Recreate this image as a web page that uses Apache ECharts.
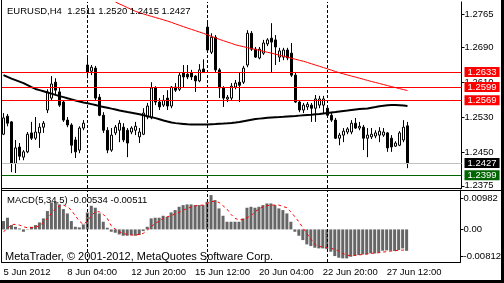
<!DOCTYPE html>
<html>
<head>
<meta charset="utf-8">
<script src="https://cdn.jsdelivr.net/npm/echarts@6/dist/echarts.min.js"></script>
<style>
  html, body { margin: 0; padding: 0; background: #fff; }
  #chart { width: 504px; height: 283px; }
</style>
</head>
<body>
<div id="chart"></div>
<script>
// EURUSD H4, 5 Jun 12:00 .. 28 Jun 08:00 2012
var opens = [
  1.2492, 1.2533, 1.2520, 1.2426, 1.2463, 1.2440, 1.2452, 1.2495, 1.2483, 1.2495,
  1.2508, 1.2547, 1.2574, 1.2610, 1.2588, 1.2565, 1.2524, 1.2513, 1.2479, 1.2456,
  1.2506, 1.2649, 1.2635, 1.2642, 1.2576, 1.2535, 1.2501, 1.2456, 1.2495, 1.2501,
  1.2508, 1.2501, 1.2497, 1.2501, 1.2486, 1.2492, 1.2531, 1.2529, 1.2597, 1.2565,
  1.2558, 1.2574, 1.2556, 1.2599, 1.2594, 1.2631, 1.2628, 1.2631, 1.2624, 1.2613,
  1.2640, 1.2735, 1.2678, 1.2712, 1.2638, 1.2597, 1.2572, 1.2574, 1.2599, 1.2610,
  1.2610, 1.2649, 1.2721, 1.2685, 1.2665, 1.2676, 1.2697, 1.2710, 1.2706, 1.2667,
  1.2667, 1.2683, 1.2676, 1.2626, 1.2565, 1.2547, 1.2554, 1.2558, 1.2551, 1.2558,
  1.2558, 1.2551, 1.2535, 1.2524, 1.2483, 1.2490, 1.2497, 1.2497, 1.2517, 1.2506,
  1.2508, 1.2483, 1.2486, 1.2488, 1.2490, 1.2490, 1.2495, 1.2483, 1.2465, 1.2467,
  1.2479, 1.2511
];
var highs = [
  1.2540, 1.2538, 1.2522, 1.2479, 1.2472, 1.2456, 1.2497, 1.2520, 1.2531, 1.2517,
  1.2522, 1.2594, 1.2624, 1.2619, 1.2599, 1.2569, 1.2531, 1.2517, 1.2486, 1.2510,
  1.2524, 1.2669, 1.2649, 1.2647, 1.2583, 1.2542, 1.2508, 1.2506, 1.2513, 1.2524,
  1.2517, 1.2506, 1.2510, 1.2520, 1.2506, 1.2551, 1.2563, 1.2610, 1.2601, 1.2574,
  1.2581, 1.2592, 1.2601, 1.2608, 1.2633, 1.2649, 1.2649, 1.2638, 1.2626, 1.2651,
  1.2662, 1.2746, 1.2721, 1.2717, 1.2642, 1.2601, 1.2581, 1.2608, 1.2615, 1.2631,
  1.2647, 1.2728, 1.2726, 1.2690, 1.2690, 1.2706, 1.2710, 1.2744, 1.2717, 1.2688,
  1.2688, 1.2688, 1.2699, 1.2631, 1.2569, 1.2563, 1.2565, 1.2563, 1.2581, 1.2579,
  1.2579, 1.2558, 1.2540, 1.2529, 1.2495, 1.2506, 1.2508, 1.2524, 1.2529, 1.2520,
  1.2513, 1.2506, 1.2506, 1.2501, 1.2508, 1.2506, 1.2497, 1.2490, 1.2476, 1.2499,
  1.2524, 1.2520
];
var lows = [
  1.2490, 1.2510, 1.2406, 1.2404, 1.2433, 1.2433, 1.2449, 1.2479, 1.2479, 1.2461,
  1.2495, 1.2540, 1.2569, 1.2581, 1.2554, 1.2520, 1.2508, 1.2449, 1.2438, 1.2449,
  1.2501, 1.2619, 1.2626, 1.2569, 1.2533, 1.2495, 1.2449, 1.2452, 1.2490, 1.2474,
  1.2474, 1.2440, 1.2492, 1.2490, 1.2472, 1.2490, 1.2526, 1.2526, 1.2558, 1.2547,
  1.2554, 1.2547, 1.2551, 1.2588, 1.2590, 1.2599, 1.2617, 1.2615, 1.2588, 1.2610,
  1.2631, 1.2678, 1.2674, 1.2633, 1.2574, 1.2554, 1.2565, 1.2569, 1.2594, 1.2565,
  1.2606, 1.2644, 1.2681, 1.2665, 1.2662, 1.2672, 1.2692, 1.2633, 1.2649, 1.2656,
  1.2660, 1.2660, 1.2622, 1.2563, 1.2542, 1.2540, 1.2547, 1.2520, 1.2520, 1.2551,
  1.2540, 1.2531, 1.2520, 1.2481, 1.2467, 1.2474, 1.2492, 1.2492, 1.2504, 1.2501,
  1.2456, 1.2440, 1.2481, 1.2483, 1.2474, 1.2486, 1.2452, 1.2452, 1.2463, 1.2465,
  1.2474, 1.2415
];
var closes = [
  1.2529, 1.2517, 1.2426, 1.2461, 1.2442, 1.2452, 1.2492, 1.2483, 1.2497, 1.2508,
  1.2517, 1.2588, 1.2606, 1.2592, 1.2558, 1.2524, 1.2513, 1.2467, 1.2452, 1.2506,
  1.2517, 1.2633, 1.2644, 1.2574, 1.2535, 1.2501, 1.2456, 1.2490, 1.2508, 1.2517,
  1.2479, 1.2472, 1.2506, 1.2510, 1.2497, 1.2540, 1.2556, 1.2597, 1.2565, 1.2554,
  1.2569, 1.2556, 1.2599, 1.2592, 1.2626, 1.2622, 1.2622, 1.2622, 1.2613, 1.2638,
  1.2633, 1.2683, 1.2712, 1.2638, 1.2597, 1.2574, 1.2576, 1.2601, 1.2608, 1.2603,
  1.2642, 1.2721, 1.2685, 1.2667, 1.2685, 1.2699, 1.2706, 1.2701, 1.2690, 1.2681,
  1.2683, 1.2665, 1.2626, 1.2565, 1.2547, 1.2558, 1.2560, 1.2551, 1.2572, 1.2572,
  1.2572, 1.2535, 1.2524, 1.2483, 1.2490, 1.2499, 1.2504, 1.2517, 1.2506, 1.2510,
  1.2483, 1.2490, 1.2492, 1.2495, 1.2499, 1.2497, 1.2461, 1.2463, 1.2472, 1.2495,
  1.2508, 1.2427
];

// thick black moving average
var maBlack = [
  1.26262, 1.26221, 1.26182, 1.26148, 1.26114, 1.26080, 1.26035, 1.25989, 1.25948, 1.25921,
  1.25894, 1.25867, 1.25842, 1.25812, 1.25785, 1.25762, 1.25735, 1.25710, 1.25685, 1.25662,
  1.25642, 1.25624, 1.25603, 1.25581, 1.25558, 1.25540, 1.25522, 1.25501, 1.25481, 1.25460,
  1.25440, 1.25422, 1.25406, 1.25390, 1.25372, 1.25349, 1.25326, 1.25308, 1.25285, 1.25258,
  1.25231, 1.25208, 1.25188, 1.25172, 1.25161, 1.25154, 1.25147, 1.25142, 1.25142, 1.25140,
  1.25140, 1.25142, 1.25147, 1.25151, 1.25156, 1.25161, 1.25167, 1.25174, 1.25186, 1.25199,
  1.25215, 1.25231, 1.25247, 1.25263, 1.25274, 1.25285, 1.25295, 1.25301, 1.25306, 1.25310,
  1.25315, 1.25322, 1.25329, 1.25335, 1.25342, 1.25349, 1.25356, 1.25363, 1.25372, 1.25381,
  1.25392, 1.25403, 1.25415, 1.25426, 1.25438, 1.25449, 1.25460, 1.25472, 1.25483, 1.25492,
  1.25499, 1.25506, 1.25522, 1.25537, 1.25553, 1.25567, 1.25576, 1.25581, 1.25583, 1.25578,
  1.25571, 1.25562
];
// thin red moving average (off the top of the chart before bar 28)
var maRed = [
  null, null, null, null, null, null, null, null, null, null,
  null, null, null, null, null, null, null, null, null, null,
  null, null, null, null, null, null, null, null, 1.27919, 1.27875,
  1.27835, 1.27791, 1.27751, 1.27707, 1.27678, 1.27648, 1.27621, 1.27594, 1.27567, 1.27542,
  1.27515, 1.27487, 1.27458, 1.27424, 1.27392, 1.27360, 1.27328, 1.27299, 1.27269, 1.27238,
  1.27208, 1.27174, 1.27140, 1.27106, 1.27072, 1.27042, 1.27011, 1.26981, 1.26949, 1.26927,
  1.26906, 1.26883, 1.26863, 1.26843, 1.26822, 1.26800, 1.26779, 1.26759, 1.26736, 1.26713,
  1.26690, 1.26668, 1.26643, 1.26620, 1.26597, 1.26575, 1.26548, 1.26518, 1.26489, 1.26461,
  1.26432, 1.26402, 1.26373, 1.26343, 1.26314, 1.26289, 1.26264, 1.26239, 1.26216, 1.26191,
  1.26166, 1.26141, 1.26116, 1.26094, 1.26071, 1.26048, 1.26023, 1.26000, 1.25978, 1.25955,
  1.25932, 1.25912
];

// MACD(5,34,5)
var macdMain = [
  0.00208, 0.00291, 0.00108, 0.00066, 0.00025, -0.00058, 0.00008, 0.00066, 0.00108, 0.00174,
  0.00274, 0.00457, 0.00672, 0.00689, 0.00623, 0.00506, 0.00398, 0.00208, 0.00066, 0.00050,
  0.00125, 0.00423, 0.00589, 0.00540, 0.00398, 0.00191, 0.00042, -0.00058, -0.00083, -0.00125,
  -0.00158, -0.00158, -0.00141, -0.00158, -0.00141, -0.00042, 0.00066, 0.00274, 0.00291, 0.00291,
  0.00340, 0.00315, 0.00423, 0.00481, 0.00564, 0.00606, 0.00623, 0.00623, 0.00606, 0.00606,
  0.00606, 0.00689, 0.00855, 0.00730, 0.00523, 0.00340, 0.00191, 0.00191, 0.00191, 0.00191,
  0.00274, 0.00540, 0.00564, 0.00540, 0.00564, 0.00606, 0.00647, 0.00647, 0.00606, 0.00523,
  0.00481, 0.00398, 0.00191, -0.00058, -0.00158, -0.00266, -0.00374, -0.00415, -0.00457, -0.00473,
  -0.00473, -0.00490, -0.00556, -0.00664, -0.00706, -0.00722, -0.00722, -0.00681, -0.00656, -0.00639,
  -0.00623, -0.00623, -0.00598, -0.00598, -0.00581, -0.00531, -0.00523, -0.00531, -0.00540, -0.00515,
  -0.00473, -0.00534
];
var macdSignal = [
  -0.00058, 0.00025, 0.00125, 0.00125, 0.00108, 0.00066, 0.00042, 0.00042, 0.00058, 0.00091,
  0.00174, 0.00274, 0.00398, 0.00506, 0.00589, 0.00606, 0.00564, 0.00481, 0.00340, 0.00208,
  0.00125, 0.00208, 0.00340, 0.00440, 0.00440, 0.00374, 0.00274, 0.00091, 0.00008, -0.00058,
  -0.00100, -0.00125, -0.00141, -0.00141, -0.00125, -0.00100, -0.00017, 0.00066, 0.00149, 0.00208,
  0.00274, 0.00315, 0.00340, 0.00390, 0.00423, 0.00481, 0.00523, 0.00556, 0.00589, 0.00598,
  0.00606, 0.00647, 0.00689, 0.00706, 0.00672, 0.00589, 0.00506, 0.00374, 0.00274, 0.00241,
  0.00241, 0.00291, 0.00340, 0.00440, 0.00506, 0.00564, 0.00589, 0.00606, 0.00606, 0.00606,
  0.00573, 0.00540, 0.00440, 0.00315, 0.00191, 0.00042, -0.00100, -0.00241, -0.00374, -0.00423,
  -0.00440, -0.00448, -0.00465, -0.00498, -0.00540, -0.00598, -0.00639, -0.00656, -0.00647, -0.00639,
  -0.00623, -0.00614, -0.00598, -0.00589, -0.00581, -0.00564, -0.00556, -0.00540, -0.00531, -0.00523,
  -0.00515, -0.00511
];
var macdMax = 0.00982;
var macdMin = -0.00812;

// horizontal price lines
var levelPrices = [1.2633, 1.2599, 1.2569];
var greenPrice = 1.2399;

// axis ticks
var priceTicks = [1.2375, 1.2450, 1.2530, 1.2610, 1.2690, 1.2765];
var xTickIndex = [0, 16, 32, 48, 64, 80, 96];
var xTickLabels = ['5 Jun 2012', '8 Jun 04:00', '12 Jun 20:00', '15 Jun 12:00',
  '20 Jun 04:00', '22 Jun 20:00', '27 Jun 12:00'];
var weekSeparators = [21, 51, 81];

var FONT = "'Liberation Sans', Arial, sans-serif";
var FS = 9.5;
var SLOTS = 115;

// H4 bar times, weekends skipped; empty slots after the last bar
var categories = [];
var t = Date.UTC(2012, 5, 5, 12);
while (categories.length < SLOTS) {
  var d = new Date(t);
  if (d.getUTCDay() !== 0 && d.getUTCDay() !== 6) {
    categories.push(d.toISOString().slice(0, 16).replace('T', ' '));
  }
  t += 4 * 3600 * 1000;
}

var candles = opens.map(function (o, i) {
  return [o, closes[i], lows[i], highs[i]];
});
var last = opens.length - 1;

function isTick(index) {
  return xTickIndex.indexOf(index) >= 0;
}
function priceLine(p, lineColor, boxColor) {
  return {
    yAxis: p,
    lineStyle: { color: lineColor, type: 'solid', width: 1 },
    label: { backgroundColor: boxColor }
  };
}
var separatorLine = {
  symbol: ['none', 'none'],
  silent: true,
  label: { show: false },
  lineStyle: { color: '#000', type: [3, 2], width: 1 },
  data: weekSeparators.map(function (i) { return { xAxis: categories[i] }; })
};

var levelLines = levelPrices.map(function (p) { return priceLine(p, '#ff0000', '#ff0000'); });
levelLines.push(priceLine(closes[last], '#c0c0c0', '#000000'));
levelLines.push(priceLine(greenPrice, '#006400', '#006400'));

var macdTop = macdMax - (macdMax - macdMin) * 8 / 72;
var macdBottom = macdMin + (macdMax - macdMin) * 6 / 72;

var chart = echarts.init(document.getElementById('chart'));
var option = {
  animation: false,
  textStyle: { fontFamily: FONT, fontSize: FS, color: '#000' },
  grid: [
    { left: 1.5, top: 2, width: 460, height: 186 },
    { left: 1.5, top: 190, width: 460, height: 72 }
  ],
  xAxis: [
    {
      type: 'category', gridIndex: 0, data: categories,
      axisLine: { onZero: false, lineStyle: { color: '#000' } },
      axisTick: { show: false },
      axisLabel: { show: false },
      splitLine: { show: false }
    },
    {
      type: 'category', gridIndex: 1, data: categories,
      axisLine: { onZero: false, lineStyle: { color: '#000' } },
      axisTick: {
        alignWithLabel: true, length: 4, interval: isTick,
        lineStyle: { color: '#000' }
      },
      axisLabel: {
        interval: isTick, align: 'left', margin: 5,
        color: '#000', fontFamily: FONT, fontSize: FS,
        formatter: function (value, index) {
          return xTickLabels[xTickIndex.indexOf(index)] || '';
        }
      },
      splitLine: { show: false }
    }
  ],
  yAxis: [
    {
      type: 'value', gridIndex: 0, position: 'right',
      min: 1.2370, max: 1.2792,
      axisLine: { show: true, lineStyle: { color: '#000' } },
      axisTick: { show: true, length: 3, customValues: priceTicks, lineStyle: { color: '#000' } },
      axisLabel: {
        customValues: priceTicks, margin: 3,
        color: '#000', fontFamily: FONT, fontSize: FS,
        formatter: function (v) { return v.toFixed(4); }
      },
      splitLine: { show: false }
    },
    {
      type: 'value', gridIndex: 1, position: 'right',
      min: macdMin, max: macdMax,
      axisLine: { show: true, lineStyle: { color: '#000' } },
      axisTick: { show: true, length: 3, customValues: [macdTop, 0, macdBottom], lineStyle: { color: '#000' } },
      axisLabel: {
        customValues: [macdTop, 0, macdBottom], margin: 3,
        color: '#000', fontFamily: FONT, fontSize: FS,
        formatter: function (v) {
          if (v > 0) return macdMax.toFixed(5);
          if (v < 0) return macdMin.toFixed(5);
          return '0.00';
        }
      },
      splitLine: { show: false }
    }
  ],
  series: [
    {
      type: 'candlestick', xAxisIndex: 0, yAxisIndex: 0,
      data: candles, barWidth: 3,
      itemStyle: {
        color: '#ffffff', color0: '#000000',
        borderColor: '#000000', borderColor0: '#000000', borderWidth: 1
      },
      markLine: separatorLine
    },
    {
      type: 'line', xAxisIndex: 0, yAxisIndex: 0, data: maBlack,
      symbol: 'none', lineStyle: { color: '#000', width: 2 }, z: 3
    },
    {
      type: 'line', xAxisIndex: 0, yAxisIndex: 0, data: maRed,
      symbol: 'none', lineStyle: { color: '#ff0000', width: 1 }, z: 3,
      markLine: {
        symbol: ['none', 'none'],
        silent: true,
        precision: 4,
        label: {
          show: true, position: 'end', distance: 3,
          color: '#fff', fontFamily: FONT, fontSize: FS,
          padding: [1, 3, 0, 3], lineHeight: 9,
          formatter: function (p) { return Number(p.value).toFixed(4); }
        },
        data: levelLines
      }
    },
    {
      type: 'bar', xAxisIndex: 1, yAxisIndex: 1, data: macdMain,
      barWidth: 3, itemStyle: { color: '#666666' },
      markLine: separatorLine
    },
    {
      type: 'line', xAxisIndex: 1, yAxisIndex: 1, data: macdSignal,
      symbol: 'none', lineStyle: { color: '#ff0000', width: 1, type: [3, 3] }, z: 3
    }
  ],
  graphic: [
    {
      type: 'text', left: 7, top: 6, z: 10,
      style: {
        text: 'EURUSD,H4  ' + [opens[last], highs[last], lows[last], closes[last]]
          .map(function (v) { return v.toFixed(4); }).join(' '),
        font: FS + 'px ' + FONT, fill: '#000'
      }
    },
    {
      type: 'text', left: 7, top: 195, z: 10,
      style: {
        text: 'MACD(5,34,5) ' + macdMain[last].toFixed(5) + ' ' + macdSignal[last].toFixed(5),
        font: FS + 'px ' + FONT, fill: '#000'
      }
    },
    {
      type: 'text', left: 5, top: 251, z: 10,
      style: {
        text: 'MetaTrader, \u00a9 2001-2012, MetaQuotes Software Corp.',
        font: '11px ' + FONT, fill: '#000'
      }
    },
    { type: 'line', z: 10, shape: { x1: 1.5, y1: 0, x2: 1.5, y2: 262 }, style: { stroke: '#000', lineWidth: 1 } },
    { type: 'line', z: 10, shape: { x1: 1, y1: 190.5, x2: 501, y2: 190.5 }, style: { stroke: '#000', lineWidth: 1 } },
    { type: 'rect', z: 10, shape: { x: 501, y: 0, width: 3, height: 283 }, style: { fill: '#000' } },
    { type: 'rect', z: 10, shape: { x: 0, y: 280, width: 504, height: 3 }, style: { fill: '#000' } }
  ]
};
chart.setOption(option);
</script>
</body>
</html>
